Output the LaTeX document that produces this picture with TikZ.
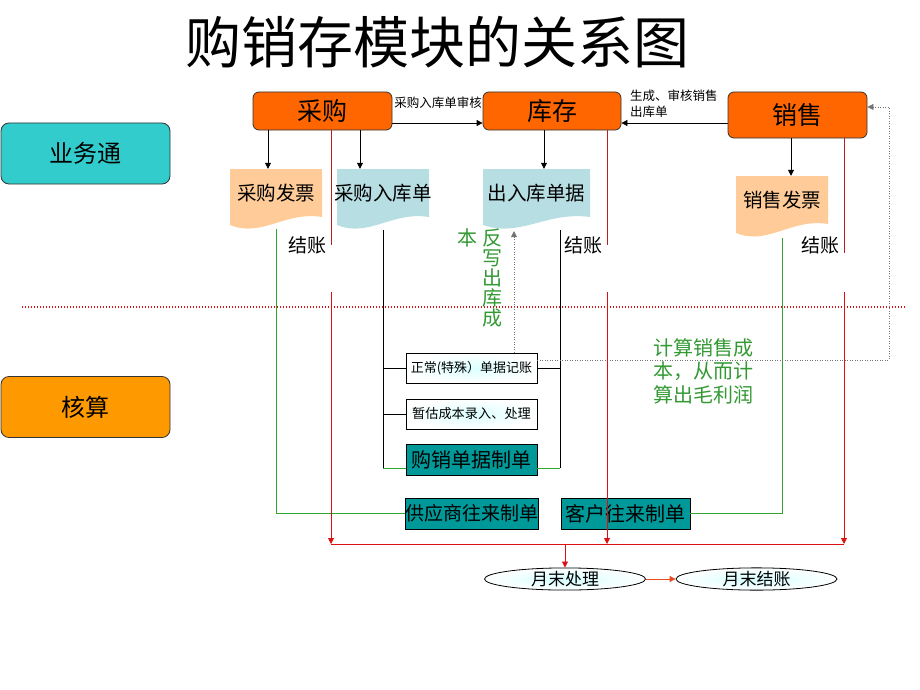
\documentclass[tikz,border=0pt]{standalone}
\usepackage{fontspec}
\setmainfont{Noto Sans CJK SC}
\usetikzlibrary{arrows.meta,shapes.geometric}

\definecolor{topor}{HTML}{FF6600}
\definecolor{ywcyan}{HTML}{33CCCC}
\definecolor{hsor}{HTML}{FF9900}
\definecolor{peach}{HTML}{FFCC99}
\definecolor{docblue}{HTML}{B7DEE2}
\definecolor{zdteal}{HTML}{009999}
\definecolor{grnln}{HTML}{2FA62F}
\definecolor{txtgrn}{HTML}{339933}
\definecolor{redl}{HTML}{DD1111}
\definecolor{darkred}{HTML}{B82020}
\newcommand{\fsz}[1]{\fontsize{#1}{#1}\selectfont}

\begin{document}
\begin{tikzpicture}[x=1pt, y=-1pt,
  every node/.style={inner sep=0pt},
  tip/.style={-{Triangle[length=6pt,width=6pt]}},
  arr/.style={line width=0.8pt, tip},
  topbox/.style={draw=black!80, fill=topor, rounded corners=6pt, line width=0.8pt, font=\fsz{25}},
  sidebox/.style={draw=black!80, rounded corners=8pt, line width=0.8pt, minimum width=169pt, minimum height=61pt, font=\fsz{24}},
  docbox/.style={minimum height=48pt, font=\fsz{19.5}},
  calbox/.style={draw, line width=0.8pt, shade, inner color=cyan!14, outer color=white, minimum width=131pt, minimum height=30pt},
  tealbox/.style={draw, line width=0.8pt, fill=zdteal, minimum height=31pt, font=\fsz{20}},
  endell/.style={ellipse, draw, line width=0.8pt, shade, inner color=cyan!16, outer color=white, minimum width=161pt, minimum height=22pt, font=\fsz{17}},
  lbl/.style={font=\fontsize{12.5}{16}\selectfont},
  jz/.style={font=\fsz{19}},
  gtxt/.style={text=txtgrn},
  redln/.style={draw=redl, line width=0.9pt},
  redarr/.style={redln, tip},
  grln/.style={draw=grnln, line width=0.9pt},
  blkln/.style={line width=0.9pt},
  dotln/.style={draw=black!55, line width=0.7pt, dash pattern=on 1pt off 1.5pt}]
  \useasboundingbox (0,0) rectangle (920,690);

  % Title
  \node[font=\fsz{56}] (title) at (437,42) {购销存模块的关系图};

  % Side labels and separator
  \node[sidebox, fill=ywcyan] (ywt) at (85.5,153.5) {业务通};
  \node[sidebox, fill=hsor] (hs) at (85.5,407) {核算};
  \draw[redl, line width=1.2pt, dash pattern=on 1.2pt off 1.8pt] (22,307) -- (905,307);

  % Top modules
  \node[topbox, minimum width=139pt, minimum height=38pt] (cg) at (322.5,111) {采购};
  \node[topbox, minimum width=138pt, minimum height=38pt] (kc) at (552,111) {库存};
  \node[topbox, minimum width=139pt, minimum height=46pt] (xs) at (797.5,115) {销售};

  \draw[arr] ([yshift=-12pt]cg.east) -- ([yshift=-12pt]kc.west);
  \node[lbl] (cgsh) at (438,103) {采购入库单审核};
  \draw[arr] ([yshift=-8pt]xs.west) -- ([yshift=-12pt]kc.east);
  \node[lbl, align=left, anchor=west] (sckh) at (630,104) {生成、审核销售\\出库单};

  % Documents
  \fill[peach] (230,169) -- (230,225) .. controls (262,238) and (285,211) .. (322,217) -- (322,169) -- cycle;
  \fill[docblue] (337,169) -- (337,225) .. controls (369,238) and (392,211) .. (429,217) -- (429,169) -- cycle;
  \fill[docblue] (483,169) -- (483,225) .. controls (520,238) and (547,211) .. (590,217) -- (590,169) -- cycle;
  \fill[peach] (736,176) -- (736,233) .. controls (768,246) and (791,218) .. (828,224) -- (828,176) -- cycle;
  \node[docbox, minimum width=92pt] (cgfp) at (276,193) {采购发票};
  \node[docbox, minimum width=92pt] (cgrk) at (383,193) {采购入库单};
  \node[docbox, minimum width=107pt] (crkd) at (536.5,193) {出入库单据};
  \node[docbox, minimum width=92pt] (xsfp) at (782,200) {销售发票};

  \draw[arr] ([xshift=-54.5pt]cg.south) -- ([xshift=-8pt]cgfp.north);
  \draw[arr] ([xshift=37.5pt]cg.south) -- ([xshift=-23pt]cgrk.north);
  \draw[arr] ([xshift=-8pt]kc.south) -- ([xshift=7.5pt]crkd.north);
  \draw[arr] ([xshift=-6.5pt]xs.south) -- ([xshift=9pt]xsfp.north);

  % Accounting boxes
  \node[calbox, font=\fsz{13}] (zcjz) at (471.5,368) {正常(特殊）单据记账};
  \node[calbox, font=\fsz{13.2}] (zgcb) at (471.5,414) {暂估成本录入、处理};
  \node[tealbox, minimum width=131pt] (gxdj) at (471.5,460) {购销单据制单};
  \node[tealbox, minimum width=133pt, font=\fsz{19}] (gys) at (471.5,513.5) {供应商往来制单};
  \node[tealbox, minimum width=129pt] (khwl) at (625.5,513.5) {客户往来制单};

  % Black and green links
  \coordinate (gxL) at (383,468);
  \coordinate (gxR) at (560,468);
  \draw[blkln] ([yshift=-13pt]cgrk.south) -- (gxL);
  \draw[blkln] ([xshift=23.5pt,yshift=-13pt]crkd.south) -- (gxR);
  \draw[grln] (gxL) -- ([yshift=-8pt]gxdj.west);
  \draw[grln] ([yshift=-8pt]gxdj.east) -- (gxR);
  \draw[blkln] (zcjz.west) -- (zcjz.west -| gxL);
  \draw[blkln] (zcjz.east) -- (zcjz.east -| gxR);
  \draw[blkln] (zgcb.west) -- (zgcb.west -| gxL);
  \draw[grln] ([yshift=-12pt]cgfp.south) |- (gys.west);
  \draw[grln] ([yshift=-14pt]xsfp.south) |- (khwl.east);

  % Dotted feedback
  \coordinate (fbc) at (889,107);
  \draw[dotln, tip] ([yshift=8pt]zcjz.east) -| (fbc) -- ([yshift=8pt]xs.east);
  \draw[dotln, tip] ([xshift=42.5pt]zcjz.north) -- ([xshift=-22.5pt,yshift=-14pt]crkd.south);

  % Green notes
  \node[gtxt, align=center, font=\fontsize{20}{20}\selectfont] (fxcb) at (492,278) {反\\写\\出\\库\\成};
  \node[gtxt, font=\fsz{20}] (fxb) at (467,238) {本};
  \node[gtxt, align=left, anchor=west, font=\fontsize{20}{23.5}\selectfont] (jsxs) at (653,371) {计算销售成\\本，从而计\\算出毛利润};

  % Month end
  \node[jz] (jz1) at (307,245) {结账};
  \node[jz] (jz2) at (583,245) {结账};
  \node[jz] (jz3) at (820,245) {结账};
  \coordinate (rcg) at (331,245);
  \coordinate (rkc) at (607,245);
  \coordinate (rxs) at (844,253);
  \coordinate (rcgb) at (331,292);
  \coordinate (rkcb) at (607,292);
  \coordinate (rxsb) at (844,292);
  \coordinate (busL) at (331,544);
  \coordinate (busR) at (844,544);
  \draw[redln, draw=darkred] (cg.south -| rcg) -- (rcg);
  \draw[redln, draw=darkred] (kc.south -| rkc) -- (rkc);
  \draw[redln, draw=darkred] (xs.south -| rxs) -- (rxs);
  \draw[redarr] (rcgb) -- (rcgb |- busL);
  \draw[redarr] (rkcb) -- (rkcb |- busL);
  \draw[redarr] (rxsb) -- (rxsb |- busL);
  \draw[redln] (busL) -- (busR);

  \node[endell] (ymcl) at (565,579) {月末处理};
  \node[endell] (ymjz) at (756.5,579) {月末结账};
  \draw[redarr] (ymcl.north |- busL) -- (ymcl.north);
  \draw[line width=0.9pt, draw={rgb,255:red,232;green,76;blue,30}, tip] (ymcl.east) -- (ymjz.west);
\end{tikzpicture}
\end{document}
